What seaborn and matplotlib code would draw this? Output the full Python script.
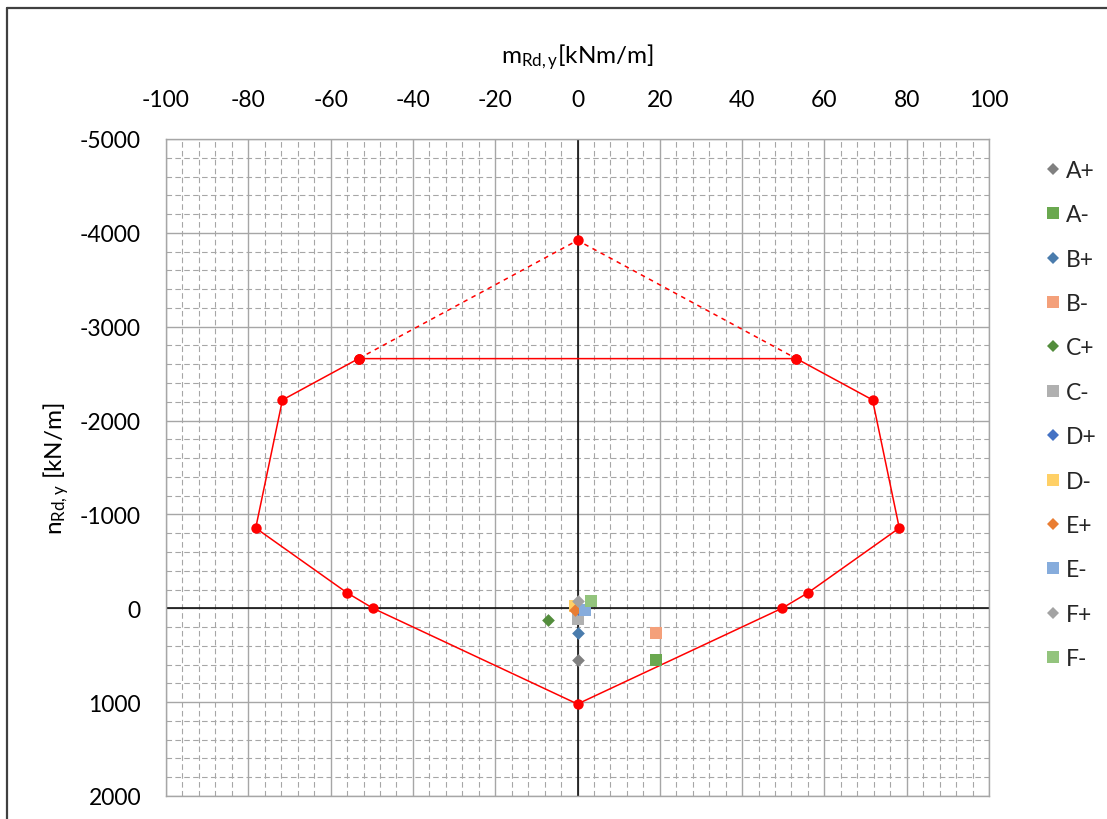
import matplotlib
matplotlib.use("Agg")
import matplotlib.pyplot as plt
from matplotlib.lines import Line2D
from matplotlib.ticker import MultipleLocator
import seaborn as sns
import pandas as pd

# Design load cases (bending moment m, normal force n)
case_labels = ["A+", "A-", "B+", "B-", "C+", "C-", "D+", "D-", "E+", "E-", "F+", "F-"]
case_m = [0.0, 19.0, 0.0, 19.0, -7.2, 0.0, 0.0, -0.5, -0.6, 1.8, 0.0, 3.4]
case_n = [550, 550, 262, 262, 120, 115, 10, -20, 17, 22, -82, -82]
case_colors = ["#808080", "#6aa84f", "#4a7cad", "#f4a07a", "#538d3c", "#b0b0b0",
               "#4472c4", "#ffd066", "#e97d32", "#86acdc", "#a3a3a3", "#93c47d"]

# Interaction diagram (resistance envelope)
env_m = [-53.2, -71.7, -78.2, -56.0, -49.7, 0.0, 49.7, 56.0, 78.2, 71.7, 53.2, -53.2]
env_n = [-2660, -2220, -855, -165, 0, 1020, 0, -165, -855, -2220, -2660, -2660]
cap_m = [-53.2, 0.0, 53.2]
cap_n = [-2660, -3920, -2660]

x_ticks = list(range(-100, 101, 20))
y_ticks = list(range(-5000, 2001, 1000))

sns.set_theme(style="white")
plt.rcParams["font.family"] = ["Lato", "DejaVu Sans"]
plt.rcParams["axes.unicode_minus"] = False
plt.rcParams["mathtext.fontset"] = "custom"
plt.rcParams["mathtext.rm"] = "Lato"
plt.rcParams["mathtext.it"] = "Lato"

fig = plt.figure(figsize=(11.07, 8.2), dpi=100)
ax = fig.add_axes([166 / 1107, 1 - 797 / 820, 823 / 1107, 657 / 820])

grid_c = "#a6a6a6"
ax.set_xlim(-100, 100)
ax.set_ylim(2000, -5000)
ax.set_xticks(x_ticks)
ax.set_yticks(y_ticks)
ax.xaxis.set_minor_locator(MultipleLocator(4))
ax.yaxis.set_minor_locator(MultipleLocator(200))
ax.grid(which="major", color=grid_c, linewidth=1.0, linestyle="-", zorder=0)
ax.grid(which="minor", color=grid_c, linewidth=0.8, linestyle=(0, (5, 3)), zorder=0)
ax.set_axisbelow(True)
for sp in ax.spines.values():
    sp.set_color(grid_c)
    sp.set_linewidth(1.0)

ax.axhline(0, color="black", linewidth=1.1, zorder=1)
ax.axvline(0, color="black", linewidth=1.1, zorder=1)

ax.xaxis.tick_top()
ax.xaxis.set_label_position("top")
ax.tick_params(axis="both", which="both", length=0, labelsize=16.5, colors="black")
ax.tick_params(axis="x", pad=21)
ax.tick_params(axis="y", pad=18)

# Envelope: solid outline plus dashed cap
env_df = pd.DataFrame({"m": env_m, "n": env_n})
sns.lineplot(data=env_df, x="m", y="n", sort=False, estimator=None, color="#ff0000",
             linewidth=1.1, marker="o", markersize=7.5, markeredgewidth=0,
             markerfacecolor="#ff0000", ax=ax, zorder=3)
cap_df = pd.DataFrame({"m": cap_m, "n": cap_n})
sns.lineplot(data=cap_df, x="m", y="n", sort=False, estimator=None, color="#ff0000",
             linewidth=1.1, linestyle=(0, (3, 3)), marker="o", markersize=7.5,
             markeredgewidth=0, markerfacecolor="#ff0000", ax=ax, zorder=3)

# Load cases
case_df = pd.DataFrame({"m": case_m, "n": case_n, "case": case_labels})
markers = {lab: ("D" if lab.endswith("+") else "s") for lab in case_labels}
palette = dict(zip(case_labels, case_colors))
sizes = {lab: (42 if lab.endswith("+") else 80) for lab in case_labels}
for lab in case_labels:
    sub = case_df[case_df["case"] == lab]
    sns.scatterplot(data=sub, x="m", y="n", marker=markers[lab], color=palette[lab],
                    s=sizes[lab], linewidth=0, ax=ax, zorder=4, legend=False)

ax.set_xlabel(r"m$_{\mathrm{Rd,y}}$[kNm/m]", fontsize=17.5, color="black")
ax.set_ylabel(r"n$_{\mathrm{Rd,y}}$ [kN/m]", fontsize=17.5, color="black")
ax.xaxis.set_label_coords(0.5, 1.116)
ax.yaxis.set_label_coords(-0.116, 0.5)

handles = [Line2D([], [], linestyle="none", marker=markers[lab], color=palette[lab],
                  markersize=(6.5 if lab.endswith("+") else 8.5), markeredgewidth=0)
           for lab in case_labels]
fig.legend(handles, case_labels, loc="upper left", bbox_to_anchor=(1046 / 1107, 1 - 161 / 820),
           frameon=False, fontsize=16.5, handlelength=0.6, handletextpad=0.25,
           labelspacing=1.02, borderaxespad=0, borderpad=0)

# Outer chart frame (top and left edges)
fig.add_artist(Line2D([7 / 1107, 1.0], [1 - 9 / 820, 1 - 9 / 820], color="#404040", linewidth=1.6))
fig.add_artist(Line2D([7 / 1107, 7 / 1107], [0.0, 1 - 9 / 820], color="#404040", linewidth=1.6))

fig.savefig("out.png", dpi=100)
